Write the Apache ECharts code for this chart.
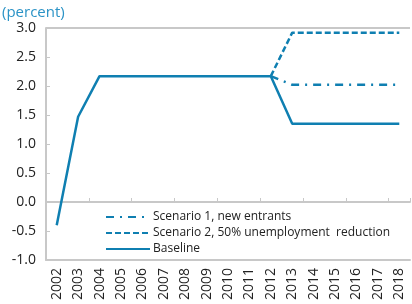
<!DOCTYPE html>
<html>
<head>
<meta charset="utf-8">
<script src="https://cdn.jsdelivr.net/npm/echarts@6/dist/echarts.min.js"></script>
<style>
html,body{margin:0;padding:0;background:#fff;}
#main{width:412px;height:304px;}
</style>
</head>
<body>
<div id="main"></div>
<script>
var years = ['2002','2003','2004','2005','2006','2007','2008','2009','2010','2011','2012','2013','2014','2015','2016','2017','2018'];
var baseline = [-0.40, 1.47, 2.17, 2.17, 2.17, 2.17, 2.17, 2.17, 2.17, 2.17, 2.17, 1.35, 1.35, 1.35, 1.35, 1.35, 1.35];
var scenario1 = ['-', '-', '-', '-', '-', '-', '-', '-', '-', '-', 2.17, 2.02, 2.02, 2.02, 2.02, 2.02, 2.02];
var scenario2 = ['-', '-', '-', '-', '-', '-', '-', '-', '-', '-', 2.17, 2.92, 2.92, 2.92, 2.92, 2.92, 2.92];
var seriesNames = ['Scenario 1, new entrants', 'Scenario 2, 50% unemployment  reduction', 'Baseline'];

var blue = '#0f7fb1';
var fontName = 'Open Sans';

var myChart = echarts.init(document.getElementById('main'));
var option = {
    animation: false,
    title: {
        text: '(percent)',
        left: -3,
        top: 0,
        textStyle: { color: '#2b93c6', fontSize: 15, fontWeight: 'normal', fontFamily: fontName }
    },
    legend: {
        orient: 'vertical',
        left: 100,
        top: 206,
        itemWidth: 44,
        itemHeight: 10,
        itemGap: 4,
        data: seriesNames,
        itemStyle: { opacity: 0 },
        textStyle: { color: '#222', fontSize: 12, fontFamily: fontName, padding: [0, 0, 0, -2] }
    },
    grid: { left: 46, right: 2, top: 28, bottom: 44 },
    xAxis: [
        {
            type: 'category',
            data: years,
            position: 'bottom',
            axisLine: { onZero: false, lineStyle: { color: '#c8c8c8', width: 2 } },
            axisTick: { show: false },
            axisLabel: { rotate: 90, color: '#222', fontSize: 14, fontFamily: fontName, margin: 8 }
        },
        {
            type: 'category',
            data: years,
            position: 'top',
            axisLine: { onZero: true, lineStyle: { color: '#c8c8c8', width: 2 } },
            axisTick: { show: true, length: 4, lineStyle: { color: '#c8c8c8' } },
            axisLabel: { show: false }
        }
    ],
    yAxis: {
        type: 'value',
        min: -1,
        max: 3,
        interval: 0.5,
        axisLine: { show: true, lineStyle: { color: '#c8c8c8', width: 2 } },
        axisTick: { show: true, inside: true, length: 4, lineStyle: { color: '#c8c8c8' } },
        splitLine: { show: false },
        axisLabel: {
            color: '#222', fontSize: 14, fontFamily: fontName, margin: 10,
            formatter: function (v) { return v.toFixed(1); }
        }
    },
    series: [
        {
            name: seriesNames[0],
            type: 'line',
            data: scenario1,
            symbol: 'none',
            lineStyle: { color: blue, width: 2.5, type: [8, 6, 2, 6] },
            itemStyle: { color: blue }
        },
        {
            name: seriesNames[1],
            type: 'line',
            data: scenario2,
            symbol: 'none',
            lineStyle: { color: blue, width: 2.5, type: [6, 3] },
            itemStyle: { color: blue }
        },
        {
            name: seriesNames[2],
            type: 'line',
            data: baseline,
            symbol: 'none',
            lineStyle: { color: blue, width: 2.5 },
            itemStyle: { color: blue },
            markLine: {
                silent: true,
                symbol: 'none',
                label: { show: false },
                lineStyle: { color: '#c8c8c8', width: 2, type: 'solid' },
                data: [{ yAxis: 3 }]
            }
        }
    ]
};
myChart.setOption(option);
</script>
</body>
</html>
